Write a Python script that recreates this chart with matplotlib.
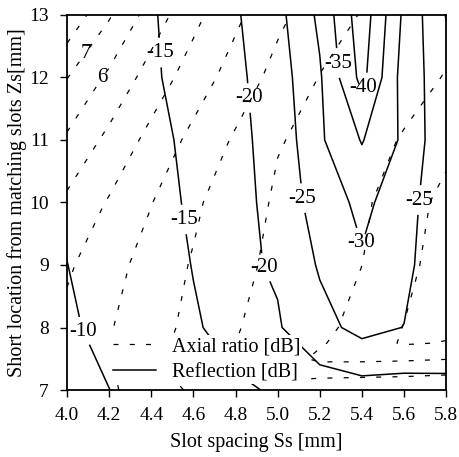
import numpy as np
import matplotlib.pyplot as plt

plt.rcParams['font.family'] = 'Liberation Serif'

# slot spacing Ss [mm] (columns of both grids)
ss = [4.0, 4.2, 4.4, 4.6, 4.8, 5.0, 5.2, 5.4, 5.6, 5.8]

# short location Zs [mm] for the reflection grid
zs_refl = [7, 8, 9, 10, 11, 12, 13]
# reflection [dB], one row per Zs
refl = [
    [-8.0, -9.95, -12.0, -13.5, -14.6, -15.27, -17.7, -18.1, -18.2, -19.1],
    [-9.2, -11.5, -13.2, -14.7, -16.0, -19.6, -23.4, -26.5, -24.9, -22.5],
    [-9.95, -12.0, -13.5, -15.1, -19.07, -20.5, -25.5, -29.4, -26.5, -20.5],
    [-10.8, -12.5, -14.0, -15.4, -18.0, -22.0, -27.0, -31.3, -27.0, -21.3],
    [-11.0, -12.6, -14.3, -15.6, -19.0, -21.5, -29.3, -35.3, -29.1, -20.9],
    [-11.5, -13.0, -14.5, -16.5, -19.0, -22.6, -29.45, -41.5, -27.86, -21.9],
    [-12.0, -13.5, -14.8, -16.1, -19.5, -23.5, -31.0, -43.0, -29.0, -19.8],
]
refl_levels = [-40, -35, -30, -25, -20, -15, -10]

# short location Zs [mm] for the axial ratio grid
zs_ar = [7.0, 7.25, 7.5, 7.75, 8, 9, 10, 11, 12, 13]
# axial ratio [dB], one row per Zs
axial = [
    [3.3, 3.15, 2.5, 1.85, 1.5, 1.3, 1.8, 1.7, 1.6, 1.5],
    [3.35, 3.12, 2.3, 1.6, 0.9, 0.8, 0.74, 0.83, 0.9, 0.98],
    [3.45, 3.08, 2.2, 1.6, 0.93, 0.65, 0.44, 0.42, 0.435, 0.48],
    [3.6, 3.06, 2.3, 1.65, 1.0, 0.72, 0.53, 0.35, 0.23, 0.26],
    [3.73, 3.07, 2.4, 1.72, 1.03, 0.81, 0.61, 0.36, 0.245, 0.2],
    [4.15, 3.35, 2.61, 1.91, 1.16, 0.86, 0.68, 0.502, 0.31, 0.15],
    [4.8, 3.91, 3.03, 2.19, 1.38, 0.90, 0.72, 0.545, 0.36, 0.18],
    [5.85, 4.74, 3.70, 2.73, 1.875, 1.04, 0.83, 0.645, 0.47, 0.32],
    [7.03, 5.80, 4.57, 3.53, 2.56, 1.68, 0.97, 0.80, 0.64, 0.48],
    [8.8, 7.11, 5.56, 4.28, 3.21, 2.22, 1.47, 0.95, 0.78, 0.62],
]
axial_levels = [0.25, 0.5, 1, 2, 3, 4, 5, 8]
axial_labelled = [6, 7]

# where the contour values are written
refl_label_pos = [(4.07, 7.93), (4.45, 12.4), (4.54, 9.72), (4.855, 11.67),
                  (4.93, 8.95), (5.12, 10.07), (5.67, 10.04), (5.40, 9.37),
                  (5.28, 12.23), (5.405, 11.85)]
axial_label_pos = [(4.10, 12.36), (4.17, 11.99)]

dash = (0, (4, 9))

fig = plt.figure(figsize=(4.59, 4.57), dpi=100)
ax = fig.add_axes([0.146, 0.1466, 0.826, 0.8206])

ax.contour(ss, zs_ar, axial, levels=axial_levels, colors='black',
           linewidths=0.9, linestyles=[dash])
cs_ar = ax.contour(ss, zs_ar, axial, levels=axial_labelled, colors='black',
                   linewidths=0.9, linestyles=[dash])
cs_r = ax.contour(ss, zs_refl, refl, levels=refl_levels, colors='black',
                  linewidths=1.1, linestyles='solid')

ax.clabel(cs_r, fmt='%d', manual=refl_label_pos, inline=True,
          inline_spacing=1, fontsize=15)
ax.clabel(cs_ar, fmt='%d', manual=axial_label_pos,
          inline=True, inline_spacing=1, fontsize=15)
# contour values are written upright
for t in cs_r.labelTexts + cs_ar.labelTexts:
    t.set_rotation(0)

ax.plot([], [], color='black', lw=0.9, ls=dash, label='Axial ratio [dB]')
ax.plot([], [], color='black', lw=1.1, ls='-', label='Reflection [dB]')
leg = ax.legend(loc='lower left', bbox_to_anchor=(0.09, -0.012), fontsize=14.5,
                frameon=True, facecolor='white', edgecolor='none', framealpha=1,
                handlelength=2.1, handletextpad=0.8, borderpad=0.1,
                labelspacing=0.35)
leg.set_zorder(5)

ax.set_xlim(4.0, 5.8)
ax.set_ylim(7, 13)
xt = np.arange(4.0, 5.81, 0.2)
ax.set_xticks(xt)
ax.set_xticklabels([f'{v:.1f}' for v in xt])
ax.set_yticks(range(7, 14))
ax.tick_params(direction='out', length=5, width=1, labelsize=14, colors='black')
ax.tick_params(axis='x', pad=7)
ax.tick_params(axis='y', pad=8)
for sp in ax.spines.values():
    sp.set_linewidth(1.3)

ax.set_xlabel('Slot spacing Ss [mm]', fontsize=14.5, labelpad=7)
ax.set_ylabel('Short location from matching slots Zs[mm]', fontsize=14.5)
ax.yaxis.set_label_coords(-0.106, 0.5)

fig.savefig('out.png', dpi=100)
